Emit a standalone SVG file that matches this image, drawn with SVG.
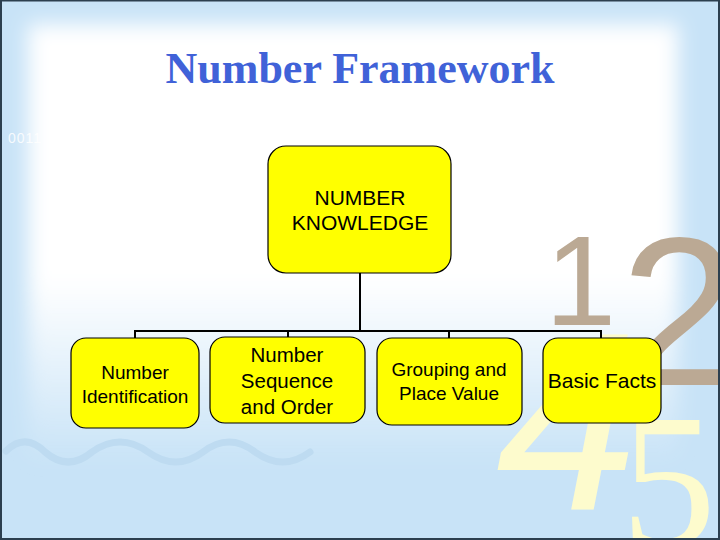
<svg xmlns="http://www.w3.org/2000/svg" width="720" height="540" viewBox="0 0 720 540">
  <defs>
    <linearGradient id="fadeDown" x1="0" y1="0" x2="0" y2="1">
      <stop offset="0" stop-color="#ffffff"/>
      <stop offset="0.58" stop-color="#ffffff"/>
      <stop offset="1" stop-color="#ffffff" stop-opacity="0"/>
    </linearGradient>
    <filter id="soft" x="-20%" y="-20%" width="140%" height="140%">
      <feGaussianBlur stdDeviation="10"/>
    </filter>
    <style>
      .box { fill: #ffff00; stroke: #000000; stroke-width: 1.2; }
      .lbl { font-family: "Liberation Sans", Arial, sans-serif; fill: #000000; text-anchor: middle; }
      .conn { stroke: #000000; stroke-width: 2; fill: none; }
      .tan { font-family: "Liberation Sans", Arial, sans-serif; fill: #bba994; }
      .pale { fill: #fdfbcd; }
    </style>
  </defs>

  <!-- background -->
  <rect x="0" y="0" width="720" height="540" fill="#c8e3f7"/>
  <rect x="28" y="24" width="650" height="440" fill="url(#fadeDown)" filter="url(#soft)"/>
  <text x="8" y="143" font-family="Liberation Sans, Arial, sans-serif" font-size="14" fill="#ffffff" fill-opacity="0.85" letter-spacing="1">0011 0S 0 11100 1 01 0101 0000 1010</text>

  <!-- decorative digits -->
  <g id="digits">
    <text class="tan" x="545" y="325" font-size="128">1</text>
    <text class="tan" x="620" y="385" font-size="212">2</text>
    <text class="pale" x="496" y="510" font-size="255" font-family="Liberation Sans, Arial, sans-serif" font-style="italic">4</text>
    <text class="pale" x="621" y="545" font-size="190" font-family="Liberation Serif, 'Times New Roman', serif">5</text>
  </g>

  <!-- wave -->
  <path d="M6 451 Q25 432 45 452 Q68 472 92 452 Q120 432 148 452 Q176 472 203 452 Q229 432 255 452 Q283 472 310 452" fill="none" stroke="#bedbf1" stroke-width="7" stroke-linecap="round"/>

  <!-- border -->
  <rect x="1" y="0.5" width="718" height="538.5" fill="none" stroke="#2c3f4f" stroke-width="2"/>

  <!-- title -->
  <text x="360" y="83" font-family="Liberation Serif, 'Times New Roman', serif" font-size="44" font-weight="bold" fill="#4062d8" text-anchor="middle">Number Framework</text>

  <!-- connectors -->
  <g id="connectors">
    <path class="conn" d="M360 273 V331"/>
    <path class="conn" d="M135 338 V331 H601 V338"/>
    <path class="conn" d="M288 331 V338"/>
    <path class="conn" d="M449 331 V338"/>
  </g>

  <!-- nodes -->
  <g id="node-knowledge">
    <rect class="box" x="268" y="146" width="183" height="127" rx="18"/>
    <text class="lbl" x="360" y="205" font-size="21">NUMBER</text>
    <text class="lbl" x="360" y="230" font-size="21">KNOWLEDGE</text>
  </g>
  <g id="node-identification">
    <rect class="box" x="71" y="338" width="128" height="90" rx="15"/>
    <text class="lbl" x="135" y="379" font-size="19">Number</text>
    <text class="lbl" x="135" y="403" font-size="19">Identification</text>
  </g>
  <g id="node-sequence">
    <rect class="box" x="210" y="337" width="155" height="86" rx="15"/>
    <text class="lbl" x="287" y="362" font-size="20.5">Number</text>
    <text class="lbl" x="287" y="388" font-size="20.5">Sequence</text>
    <text class="lbl" x="287" y="414" font-size="20.5">and Order</text>
  </g>
  <g id="node-grouping">
    <rect class="box" x="377" y="338" width="145" height="87" rx="15"/>
    <text class="lbl" x="449" y="376" font-size="19">Grouping and</text>
    <text class="lbl" x="449" y="400" font-size="19">Place Value</text>
  </g>
  <g id="node-basic">
    <rect class="box" x="543" y="338" width="118" height="85" rx="15"/>
    <text class="lbl" x="602" y="388" font-size="21">Basic Facts</text>
  </g>
</svg>
